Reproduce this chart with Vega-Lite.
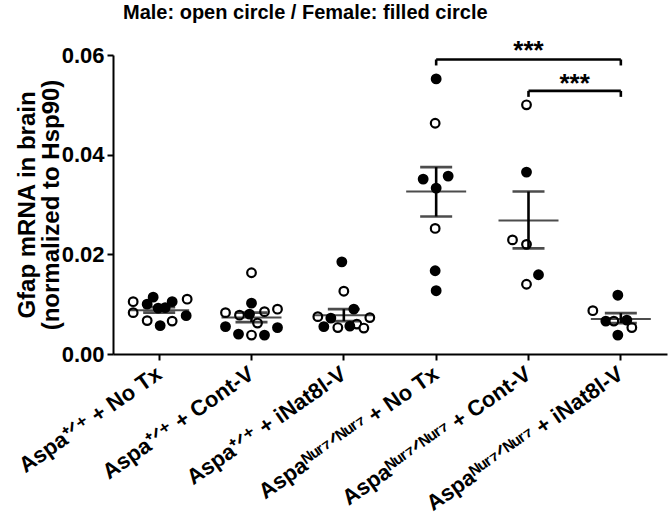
{
  "$schema": "https://vega.github.io/schema/vega-lite/v6.json",
  "autosize": {"type": "none"},
  "padding": {"left": 113, "top": 55, "right": 1, "bottom": 164},
  "width": 554,
  "height": 299,
  "background": "white",
  "config": {
    "view": {"stroke": null},
    "font": "Liberation Sans",
    "axis": {"grid": false, "domainColor": "black", "tickColor": "black", "labelColor": "black", "titleColor": "black", "labelFont": "Liberation Sans", "titleFont": "Liberation Sans", "labelFontWeight": "bold", "titleFontWeight": "bold"}
  },
  "title": {
    "text": "Male: open circle / Female: filled circle",
    "anchor": "start",
    "frame": "group",
    "dx": 10,
    "offset": 15,
    "font": "Liberation Sans",
    "fontSize": 20,
    "fontWeight": "bold",
    "color": "black"
  },
  "datasets": {
    "points": [
      {"group": "Aspa⁺ᐟ⁺ + No Tx", "sex": "Male", "value": 0.0105, "jitter": -26},
      {"group": "Aspa⁺ᐟ⁺ + No Tx", "sex": "Male", "value": 0.0083, "jitter": -26},
      {"group": "Aspa⁺ᐟ⁺ + No Tx", "sex": "Female", "value": 0.0114, "jitter": -6},
      {"group": "Aspa⁺ᐟ⁺ + No Tx", "sex": "Female", "value": 0.0100, "jitter": -12},
      {"group": "Aspa⁺ᐟ⁺ + No Tx", "sex": "Female", "value": 0.0092, "jitter": -1},
      {"group": "Aspa⁺ᐟ⁺ + No Tx", "sex": "Female", "value": 0.0093, "jitter": 6},
      {"group": "Aspa⁺ᐟ⁺ + No Tx", "sex": "Female", "value": 0.0105, "jitter": 13},
      {"group": "Aspa⁺ᐟ⁺ + No Tx", "sex": "Male", "value": 0.0110, "jitter": 28},
      {"group": "Aspa⁺ᐟ⁺ + No Tx", "sex": "Female", "value": 0.0077, "jitter": 27},
      {"group": "Aspa⁺ᐟ⁺ + No Tx", "sex": "Male", "value": 0.0067, "jitter": -12},
      {"group": "Aspa⁺ᐟ⁺ + No Tx", "sex": "Female", "value": 0.0057, "jitter": 1},
      {"group": "Aspa⁺ᐟ⁺ + No Tx", "sex": "Male", "value": 0.0066, "jitter": 13},
      {"group": "Aspa⁺ᐟ⁺ + Cont-V", "sex": "Male", "value": 0.0163, "jitter": 0},
      {"group": "Aspa⁺ᐟ⁺ + Cont-V", "sex": "Female", "value": 0.0102, "jitter": 0},
      {"group": "Aspa⁺ᐟ⁺ + Cont-V", "sex": "Male", "value": 0.0083, "jitter": -26},
      {"group": "Aspa⁺ᐟ⁺ + Cont-V", "sex": "Male", "value": 0.0078, "jitter": -12},
      {"group": "Aspa⁺ᐟ⁺ + Cont-V", "sex": "Female", "value": 0.0080, "jitter": -2},
      {"group": "Aspa⁺ᐟ⁺ + Cont-V", "sex": "Male", "value": 0.0085, "jitter": 13},
      {"group": "Aspa⁺ᐟ⁺ + Cont-V", "sex": "Male", "value": 0.0090, "jitter": 26},
      {"group": "Aspa⁺ᐟ⁺ + Cont-V", "sex": "Male", "value": 0.0062, "jitter": 6},
      {"group": "Aspa⁺ᐟ⁺ + Cont-V", "sex": "Female", "value": 0.0055, "jitter": -26},
      {"group": "Aspa⁺ᐟ⁺ + Cont-V", "sex": "Female", "value": 0.0040, "jitter": -13},
      {"group": "Aspa⁺ᐟ⁺ + Cont-V", "sex": "Male", "value": 0.0038, "jitter": 0},
      {"group": "Aspa⁺ᐟ⁺ + Cont-V", "sex": "Female", "value": 0.0038, "jitter": 13},
      {"group": "Aspa⁺ᐟ⁺ + Cont-V", "sex": "Female", "value": 0.0053, "jitter": 26},
      {"group": "Aspa⁺ᐟ⁺ + iNat8l-V", "sex": "Female", "value": 0.0185, "jitter": -2},
      {"group": "Aspa⁺ᐟ⁺ + iNat8l-V", "sex": "Male", "value": 0.0126, "jitter": 0},
      {"group": "Aspa⁺ᐟ⁺ + iNat8l-V", "sex": "Female", "value": 0.0090, "jitter": 10},
      {"group": "Aspa⁺ᐟ⁺ + iNat8l-V", "sex": "Male", "value": 0.0075, "jitter": -26},
      {"group": "Aspa⁺ᐟ⁺ + iNat8l-V", "sex": "Female", "value": 0.0072, "jitter": -13},
      {"group": "Aspa⁺ᐟ⁺ + iNat8l-V", "sex": "Male", "value": 0.0073, "jitter": 26},
      {"group": "Aspa⁺ᐟ⁺ + iNat8l-V", "sex": "Male", "value": 0.0060, "jitter": 13},
      {"group": "Aspa⁺ᐟ⁺ + iNat8l-V", "sex": "Female", "value": 0.0055, "jitter": -20},
      {"group": "Aspa⁺ᐟ⁺ + iNat8l-V", "sex": "Male", "value": 0.0053, "jitter": -6},
      {"group": "Aspa⁺ᐟ⁺ + iNat8l-V", "sex": "Female", "value": 0.0056, "jitter": 6},
      {"group": "Aspa⁺ᐟ⁺ + iNat8l-V", "sex": "Male", "value": 0.0052, "jitter": 20},
      {"group": "Aspaᴺᵘʳ⁷ᐟᴺᵘʳ⁷ + No Tx", "sex": "Female", "value": 0.0552, "jitter": 0},
      {"group": "Aspaᴺᵘʳ⁷ᐟᴺᵘʳ⁷ + No Tx", "sex": "Male", "value": 0.0463, "jitter": -1},
      {"group": "Aspaᴺᵘʳ⁷ᐟᴺᵘʳ⁷ + No Tx", "sex": "Female", "value": 0.0351, "jitter": -13},
      {"group": "Aspaᴺᵘʳ⁷ᐟᴺᵘʳ⁷ + No Tx", "sex": "Female", "value": 0.0357, "jitter": 12},
      {"group": "Aspaᴺᵘʳ⁷ᐟᴺᵘʳ⁷ + No Tx", "sex": "Female", "value": 0.0333, "jitter": 0},
      {"group": "Aspaᴺᵘʳ⁷ᐟᴺᵘʳ⁷ + No Tx", "sex": "Male", "value": 0.0252, "jitter": -1},
      {"group": "Aspaᴺᵘʳ⁷ᐟᴺᵘʳ⁷ + No Tx", "sex": "Female", "value": 0.0167, "jitter": -1},
      {"group": "Aspaᴺᵘʳ⁷ᐟᴺᵘʳ⁷ + No Tx", "sex": "Female", "value": 0.0127, "jitter": 0},
      {"group": "Aspaᴺᵘʳ⁷ᐟᴺᵘʳ⁷ + Cont-V", "sex": "Male", "value": 0.0500, "jitter": -2},
      {"group": "Aspaᴺᵘʳ⁷ᐟᴺᵘʳ⁷ + Cont-V", "sex": "Female", "value": 0.0365, "jitter": -2},
      {"group": "Aspaᴺᵘʳ⁷ᐟᴺᵘʳ⁷ + Cont-V", "sex": "Male", "value": 0.0229, "jitter": -16},
      {"group": "Aspaᴺᵘʳ⁷ᐟᴺᵘʳ⁷ + Cont-V", "sex": "Male", "value": 0.0220, "jitter": -2},
      {"group": "Aspaᴺᵘʳ⁷ᐟᴺᵘʳ⁷ + Cont-V", "sex": "Male", "value": 0.0140, "jitter": -2},
      {"group": "Aspaᴺᵘʳ⁷ᐟᴺᵘʳ⁷ + Cont-V", "sex": "Female", "value": 0.0159, "jitter": 10},
      {"group": "Aspaᴺᵘʳ⁷ᐟᴺᵘʳ⁷ + iNat8l-V", "sex": "Female", "value": 0.0118, "jitter": -3},
      {"group": "Aspaᴺᵘʳ⁷ᐟᴺᵘʳ⁷ + iNat8l-V", "sex": "Male", "value": 0.0087, "jitter": -28},
      {"group": "Aspaᴺᵘʳ⁷ᐟᴺᵘʳ⁷ + iNat8l-V", "sex": "Female", "value": 0.0066, "jitter": -15},
      {"group": "Aspaᴺᵘʳ⁷ᐟᴺᵘʳ⁷ + iNat8l-V", "sex": "Male", "value": 0.0066, "jitter": -7},
      {"group": "Aspaᴺᵘʳ⁷ᐟᴺᵘʳ⁷ + iNat8l-V", "sex": "Female", "value": 0.0068, "jitter": 6},
      {"group": "Aspaᴺᵘʳ⁷ᐟᴺᵘʳ⁷ + iNat8l-V", "sex": "Male", "value": 0.0053, "jitter": 11},
      {"group": "Aspaᴺᵘʳ⁷ᐟᴺᵘʳ⁷ + iNat8l-V", "sex": "Female", "value": 0.0038, "jitter": -3}
    ],
    "summary": [
      {"group": "Aspa⁺ᐟ⁺ + No Tx", "mean": 0.0088, "lo": 0.0083, "hi": 0.0094},
      {"group": "Aspa⁺ᐟ⁺ + Cont-V", "mean": 0.0073, "lo": 0.0064, "hi": 0.0083},
      {"group": "Aspa⁺ᐟ⁺ + iNat8l-V", "mean": 0.0078, "lo": 0.0066, "hi": 0.0090},
      {"group": "Aspaᴺᵘʳ⁷ᐟᴺᵘʳ⁷ + No Tx", "mean": 0.0326, "lo": 0.0276, "hi": 0.0375},
      {"group": "Aspaᴺᵘʳ⁷ᐟᴺᵘʳ⁷ + Cont-V", "mean": 0.0268, "lo": 0.0212, "hi": 0.0326},
      {"group": "Aspaᴺᵘʳ⁷ᐟᴺᵘʳ⁷ + iNat8l-V", "mean": 0.0070, "lo": 0.0062, "hi": 0.0082}
    ],
    "brackets": [
      {"id": 1, "start": "Aspaᴺᵘʳ⁷ᐟᴺᵘʳ⁷ + No Tx", "end": "Aspaᴺᵘʳ⁷ᐟᴺᵘʳ⁷ + iNat8l-V", "mid": "Aspaᴺᵘʳ⁷ᐟᴺᵘʳ⁷ + Cont-V", "top": 0.0591, "drop": 0.0579, "star": 0.0592, "label": "***"},
      {"id": 2, "start": "Aspaᴺᵘʳ⁷ᐟᴺᵘʳ⁷ + Cont-V", "end": "Aspaᴺᵘʳ⁷ᐟᴺᵘʳ⁷ + iNat8l-V", "mid": "Aspaᴺᵘʳ⁷ᐟᴺᵘʳ⁷ + iNat8l-V", "top": 0.0528, "drop": 0.0516, "star": 0.0526, "label": "***"}
    ]
  },
  "layer": [
    {
      "data": {"name": "points"},
      "mark": {"type": "point", "shape": "circle", "filled": false, "strokeWidth": 2.2, "stroke": "black", "size": 75, "opacity": 1},
      "encoding": {
        "x": {
          "field": "group", "type": "nominal", "sort": null,
          "scale": {"paddingInner": 0, "paddingOuter": 0},
          "axis": {
            "title": null, "labelAngle": -35, "labelAlign": "right", "labelBaseline": "middle",
            "labelFontSize": 22, "labelPadding": 11, "tickSize": 6, "tickWidth": 2, "domainWidth": 2, "labelLimit": 400
          }
        },
        "xOffset": {"field": "jitter", "type": "quantitative", "scale": {"domain": [-46.17, 46.17]}},
        "y": {
          "field": "value", "type": "quantitative",
          "scale": {"domain": [0, 0.06], "nice": false, "zero": true},
          "axis": {
            "values": [0, 0.02, 0.04, 0.06], "format": ".2f",
            "title": ["Gfap mRNA in brain", "(normalized to Hsp90)"],
            "titleFontSize": 24, "titleLineHeight": 24, "titlePadding": -2,
            "labelFontSize": 22, "labelPadding": 3, "tickSize": 6, "tickWidth": 2, "domainWidth": 2
          }
        },
        "fill": {"field": "sex", "type": "nominal", "scale": {"domain": ["Male", "Female"], "range": ["white", "black"]}, "legend": null}
      }
    },
    {
      "data": {"name": "summary"},
      "mark": {"type": "tick", "color": "black", "size": 60, "thickness": 2, "orient": "horizontal"},
      "encoding": {
        "x": {"field": "group", "type": "nominal", "sort": null},
        "y": {"field": "mean", "type": "quantitative"}
      }
    },
    {
      "data": {"name": "summary"},
      "mark": {"type": "tick", "color": "black", "size": 32, "thickness": 2.6, "orient": "horizontal"},
      "encoding": {
        "x": {"field": "group", "type": "nominal", "sort": null},
        "y": {"field": "lo", "type": "quantitative"}
      }
    },
    {
      "data": {"name": "summary"},
      "mark": {"type": "tick", "color": "black", "size": 32, "thickness": 2.6, "orient": "horizontal"},
      "encoding": {
        "x": {"field": "group", "type": "nominal", "sort": null},
        "y": {"field": "hi", "type": "quantitative"}
      }
    },
    {
      "data": {"name": "summary"},
      "mark": {"type": "rule", "color": "black", "strokeWidth": 2.6},
      "encoding": {
        "x": {"field": "group", "type": "nominal", "sort": null},
        "y": {"field": "lo", "type": "quantitative"},
        "y2": {"field": "hi"}
      }
    },
    {
      "data": {"name": "brackets"},
      "mark": {"type": "rule", "color": "black", "strokeWidth": 2.6},
      "encoding": {
        "x": {"field": "start", "type": "nominal", "sort": null, "bandPosition": 0.5},
        "x2": {"field": "end", "bandPosition": 0.5},
        "y": {"field": "top", "type": "quantitative"}
      }
    },
    {
      "data": {"name": "brackets"},
      "mark": {"type": "rule", "color": "black", "strokeWidth": 2.6},
      "encoding": {
        "x": {"field": "start", "type": "nominal", "sort": null},
        "y": {"field": "top", "type": "quantitative"},
        "y2": {"field": "drop"}
      }
    },
    {
      "data": {"name": "brackets"},
      "mark": {"type": "rule", "color": "black", "strokeWidth": 2.6},
      "encoding": {
        "x": {"field": "end", "type": "nominal", "sort": null},
        "y": {"field": "top", "type": "quantitative"},
        "y2": {"field": "drop"}
      }
    },
    {
      "data": {"name": "brackets"},
      "transform": [{"filter": "datum.id == 1"}],
      "mark": {"type": "text", "font": "Liberation Sans", "fontWeight": "bold", "fontSize": 26, "baseline": "alphabetic", "color": "black"},
      "encoding": {
        "x": {"field": "mid", "type": "nominal", "sort": null},
        "y": {"field": "star", "type": "quantitative"},
        "text": {"field": "label"}
      }
    },
    {
      "data": {"name": "brackets"},
      "transform": [{"filter": "datum.id == 2"}],
      "mark": {"type": "text", "font": "Liberation Sans", "fontWeight": "bold", "fontSize": 26, "baseline": "alphabetic", "color": "black"},
      "encoding": {
        "x": {"field": "mid", "type": "nominal", "sort": null, "bandPosition": 0},
        "y": {"field": "star", "type": "quantitative"},
        "text": {"field": "label"}
      }
    }
  ]
}
